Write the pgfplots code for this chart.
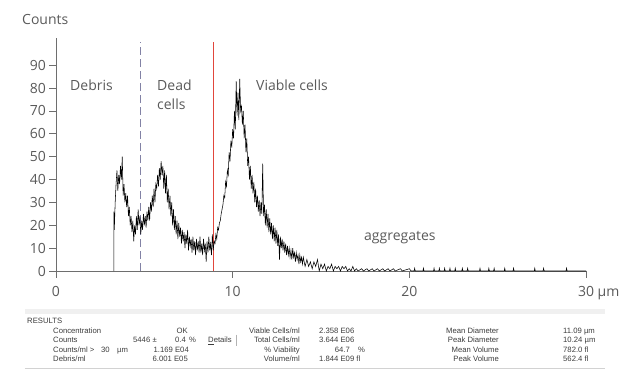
\documentclass[border=0pt]{standalone}
\usepackage{fontspec}
\setmainfont{Open Sans}
\newfontfamily\resfont{Liberation Sans}
\usepackage{pgfplots}
\pgfplotsset{compat=1.18}
\definecolor{txt}{RGB}{90,90,90}
\definecolor{axc}{RGB}{110,110,110}
\definecolor{dashc}{RGB}{130,130,165}
\definecolor{vline}{RGB}{225,70,60}
\definecolor{res}{RGB}{60,60,60}
\begin{document}
\begin{tikzpicture}[x=1pt,y=1pt]
\useasboundingbox (-56,-115) rectangle (573,271);
\begin{axis}[
  at={(0pt,0pt)}, anchor=south west,
  scale only axis, width=530pt, height=233.2pt,
  xmin=0, xmax=30, ymin=0, ymax=102,
  axis lines*=left,
  axis line style={axc, line width=0.7pt},
  tick style={axc, line width=0.7pt},
  tick align=outside,
  major tick length=6.5pt,
  xtick={0,10,20,30}, xticklabels={0,10,20,{30\rlap{ µm}}},
  ytick={0,10,...,90},
  tick label style={font=\fontsize{14}{16}\selectfont, text=txt},
  xticklabel style={yshift=-5pt},
  /pgf/number format/assume math mode=true,
]
\addplot[draw=dashc, line width=0.7pt, dash pattern=on 8pt off 4pt] coordinates {(4.8,0) (4.8,100.3)};
\addplot[draw=vline, line width=1.1pt] coordinates {(8.92,0) (8.92,100.3)};
\addplot[black, line width=0.55pt, line join=miter] coordinates {
(3.28,0)(3.28,26)(3.30,18)(3.35,30)(3.40,38)(3.45,44)(3.50,35)(3.55,42)(3.60,38)(3.65,46)(3.70,40)(3.75,50)
(3.80,33)(3.85,38)(3.90,30)(3.95,34)(4.00,28)(4.05,33)(4.10,24)(4.15,28)(4.20,20)(4.25,24)(4.30,17)(4.35,22)
(4.40,13)(4.45,20)(4.50,16)(4.55,24)(4.60,18)(4.65,27)(4.70,20)(4.75,24)(4.80,16)(4.85,22)(4.90,18)(4.95,25)
(5.00,20)(5.05,24)(5.10,19)(5.15,26)(5.20,22)(5.25,28)(5.30,22)(5.35,30)(5.40,26)(5.45,33)(5.50,28)(5.55,36)
(5.60,30)(5.65,38)(5.70,36)(5.75,42)(5.80,37)(5.85,45)(5.90,40)(5.95,48)(6.00,42)(6.05,46)(6.10,36)(6.15,44)
(6.20,34)(6.25,42)(6.30,30)(6.35,36)(6.40,27)(6.45,33)(6.50,24)(6.55,30)(6.60,20)(6.65,27)(6.70,18)(6.75,24)
(6.80,16)(6.85,22)(6.90,14)(6.95,21)(7.00,15)(7.05,19)(7.10,12)(7.15,18)(7.20,13)(7.25,17)(7.30,10)(7.35,16)
(7.40,12)(7.45,18)(7.50,9)(7.55,15)(7.60,11)(7.65,14)(7.70,8)(7.75,15)(7.80,9)(7.85,13)(7.90,7)(7.95,14)
(8.00,9)(8.05,13)(8.10,8)(8.15,15)(8.20,8)(8.25,12)(8.30,7)(8.35,14)(8.40,9)(8.45,12)(8.50,4)(8.55,13)
(8.60,8)(8.65,15)(8.70,9)(8.75,12)(8.80,7)(8.85,16)(8.90,9)(8.95,13)(9.00,12)(9.05,16)(9.10,14)(9.15,19)
(9.20,18)(9.25,21)(9.30,22)(9.35,25)(9.40,27)(9.45,29)(9.50,33)(9.55,32)(9.60,39)(9.65,37)(9.70,44)(9.75,42)
(9.80,52)(9.85,48)(9.90,57)(9.95,54)(10.00,62)(10.05,58)(10.10,70)(10.15,62)(10.20,83)(10.25,68)(10.30,78)(10.35,66)
(10.40,84)(10.45,70)(10.50,72)(10.55,64)(10.60,70)(10.65,58)(10.70,64)(10.75,52)(10.80,58)(10.85,46)(10.90,50)(10.95,40)
(11.00,46)(11.05,36)(11.10,42)(11.15,34)(11.20,39)(11.25,30)(11.30,36)(11.35,28)(11.40,33)(11.45,26)(11.50,31)(11.55,24)
(11.60,30)(11.65,25)(11.70,47)(11.75,24)(11.80,29)(11.85,20)(11.90,27)(11.95,19)(12.00,25)(12.05,17)(12.10,23)(12.15,16)
(12.20,21)(12.25,14)(12.30,20)(12.35,13)(12.40,19)(12.45,12)(12.50,18)(12.55,11)(12.60,16)(12.65,5)(12.70,15)(12.75,10)
(12.80,14)(12.85,9)(12.90,13)(12.95,8)(13.00,12)(13.05,7)(13.10,11)(13.15,7)(13.20,10)(13.25,6)(13.30,9)(13.35,5)
(13.40,10)(13.45,6)(13.50,8)(13.55,4)(13.60,8)(13.65,5)(13.70,7)(13.75,3)(13.80,7)(13.85,4)(13.90,6)(13.95,3)
(14.00,6)(14.1,2)(14.2,5)(14.3,2)(14.4,4)(14.5,1)(14.6,4)(14.7,2)(14.8,5)(14.9,0)(15.0,3)(15.1,1)(15.2,3)(15.3,0)
(15.4,2)(15.5,1)(15.6,3)(15.7,0)(15.8,2)(15.9,1)(16.0,2)(16.1,0)(16.2,2)(16.3,1)(16.4,2)(16.5,0)(16.6,1)(16.7,0)
(16.8,2)(16.9,0)(17.0,1)(17.1,0)(17.3,1)(17.4,0)(17.6,1)(17.7,0)(17.9,1)(18.0,0)(18.2,1)(18.3,0)(18.5,1)(18.6,0)
(18.8,1)(18.9,0)(19.1,1)(19.2,0)(19.5,1)(19.6,0)(20.0,1)(20.1,0)
(20.27,0)(20.3,1.2)(20.33,0)(20.77,0)(20.8,1.2)(20.83,0)(21.37,0)(21.4,1.2)(21.43,0)(21.67,0)(21.7,1.2)(21.73,0)
(21.97,0)(22.0,1.2)(22.03,0)(22.27,0)(22.3,1.2)(22.33,0)(22.57,0)(22.6,1.2)(22.63,0)(22.97,0)(23.0,1.2)(23.03,0)
(23.27,0)(23.3,1.2)(23.33,0)(23.97,0)(24.0,1.2)(24.03,0)(24.47,0)(24.5,1.2)(24.53,0)(24.77,0)(24.8,1.2)(24.83,0)
(25.37,0)(25.4,1.2)(25.43,0)(25.87,0)(25.9,1.2)(25.93,0)(27.07,0)(27.1,1.2)(27.13,0)(27.57,0)(27.6,1.2)(27.63,0)
(28.87,0)(28.9,1.2)(28.93,0)(30,0)
};
\end{axis}
% chart texts
\begin{scope}[every node/.style={inner sep=0pt, text=txt, font=\fontsize{14}{16}\selectfont}]
\node[anchor=base west] at (-34,246) {Counts};
\node[anchor=base west] at (14,180) {Debris};
\node[anchor=base west] at (101,180) {Dead};
\node[anchor=base west] at (101,162) {cells};
\node[anchor=base west] at (200,180) {Viable cells};
\node[anchor=base west] at (308,31) {aggregates};
\end{scope}
% results panel
\fill[gray!12] (-31,-38) rectangle (549,-43);
\draw[gray!35, line width=0.8pt] (-31,-97) -- (549,-97);
\begin{scope}[every node/.style={inner sep=0pt, text=res, font=\resfont\fontsize{7.7}{9}\selectfont}]
\node[anchor=base west] at (-29,-52) {RESULTS};
\node[anchor=base west] at (-3,-62) {Concentration};
\node[anchor=base west] at (-3,-71.5) {Counts};
\node[anchor=base west] at (-3,-81) {Counts/ml >};
\node[anchor=base west] at (45,-81) {30};
\node[anchor=base west] at (61,-81) {µm};
\node[anchor=base west] at (-3,-90.5) {Debris/ml};
\node[anchor=base east] at (132,-62) {OK};
\node[anchor=base east] at (94.5,-71.5) {5446};
\node[anchor=base west] at (96.5,-71.5) {±};
\node[anchor=base east] at (130,-71.5) {0.4};
\node[anchor=base west] at (133,-71.5) {\%};
\node[anchor=base east] at (133,-81) {1.169 E04};
\node[anchor=base east] at (132,-90.5) {6.001 E05};
\node[anchor=base west] at (152,-71.5) {\underline{D}etails};
\node[anchor=base east] at (244,-62) {Viable Cells/ml};
\node[anchor=base east] at (244,-71.5) {Total Cells/ml};
\node[anchor=base east] at (244,-81) {\% Viability};
\node[anchor=base east] at (244,-90.5) {Volume/ml};
\node[anchor=base west] at (263,-62) {2.358 E06};
\node[anchor=base west] at (263,-71.5) {3.644 E06};
\node[anchor=base east] at (294,-81) {64.7};
\node[anchor=base west] at (302,-81) {\%};
\node[anchor=base west] at (263,-90.5) {1.844 E09 fl};
\node[anchor=base east] at (443,-62) {Mean Diameter};
\node[anchor=base east] at (443,-71.5) {Peak Diameter};
\node[anchor=base east] at (443,-81) {Mean Volume};
\node[anchor=base east] at (443,-90.5) {Peak Volume};
\node[anchor=base west] at (507,-62) {11.09 µm};
\node[anchor=base west] at (507,-71.5) {10.24 µm};
\node[anchor=base west] at (507,-81) {782.0 fl};
\node[anchor=base west] at (507,-90.5) {562.4 fl};
\end{scope}
\draw[gray!60, line width=0.6pt] (180.5,-63.5) -- (180.5,-75);
\end{tikzpicture}
\end{document}
